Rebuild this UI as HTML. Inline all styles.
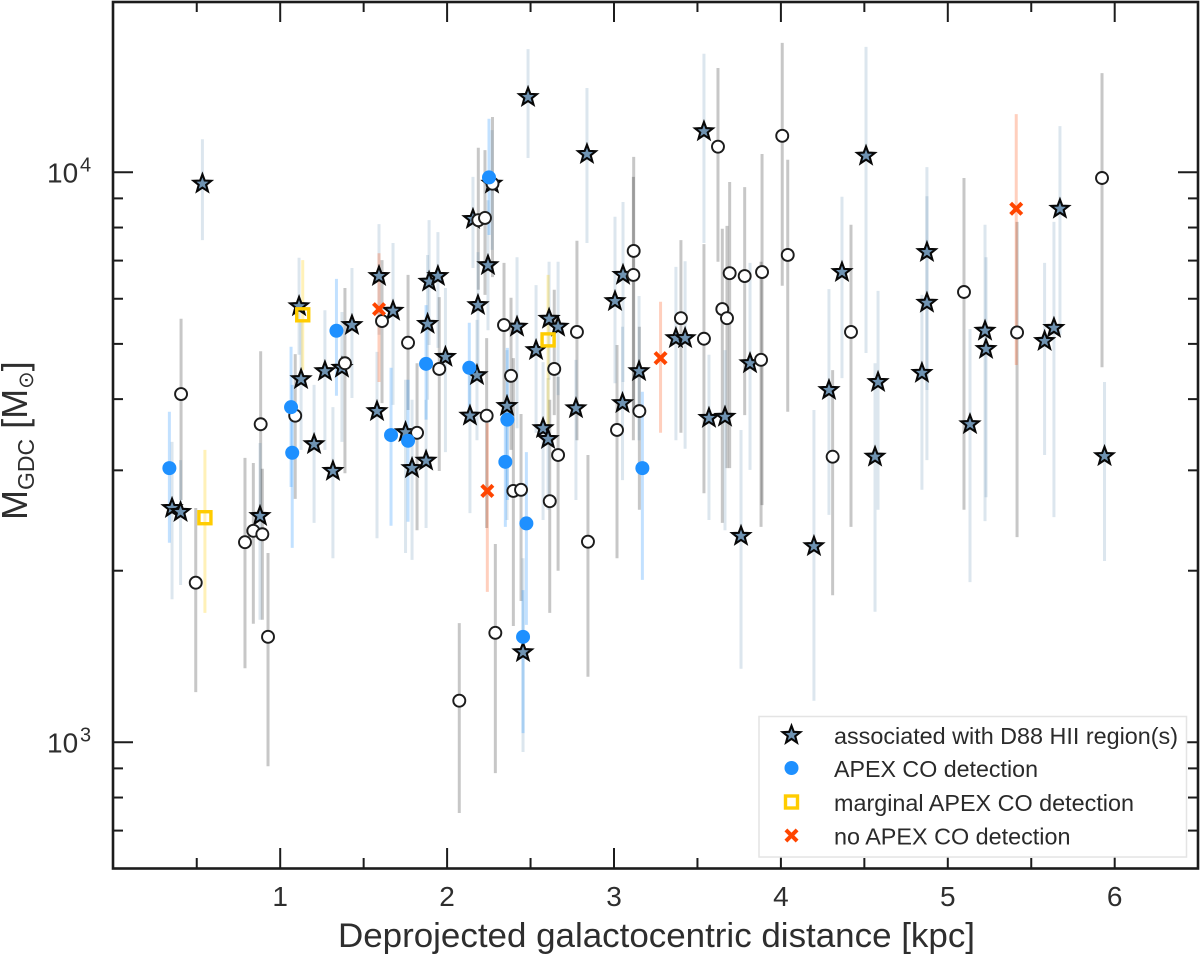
<!DOCTYPE html>
<html lang="en">
<head>
<meta charset="utf-8">
<title>GDC mass vs galactocentric distance</title>
<style>
html,body{margin:0;padding:0;background:#fff;}
svg{display:block;font-family:"Liberation Sans",sans-serif;filter:blur(0.35px);}
</style>
</head>
<body>
<svg id="chart" width="1200" height="955" viewBox="0 0 1200 955" xmlns="http://www.w3.org/2000/svg">
  <rect x="0" y="0" width="1200" height="955" fill="#fff"/>
  <g id="errs"></g>
  <g id="marks"></g>
  <rect x="113" y="2" width="1085" height="866.5" fill="none" stroke="#1c1c1c" stroke-width="2.6"/>
  <g id="ticks"></g>
  <g id="labels" fill="#2e2e2e"></g>
  <text x="338" y="947" font-size="34" fill="#2e2e2e" textLength="637" lengthAdjust="spacingAndGlyphs">Deprojected galactocentric distance [kpc]</text>
  <text transform="translate(27,520) rotate(-90)" font-size="36" fill="#2e2e2e"><tspan>M</tspan><tspan font-size="23" dy="7">GDC</tspan><tspan dy="-7"> [M</tspan><tspan font-size="21" dy="6">⊙</tspan><tspan dy="-6">]</tspan></text>
  <g id="legend">
    <rect x="759" y="716.5" width="427.5" height="140.5" fill="#fff" stroke="#e4e4e4" stroke-width="1.5"/>
    <g id="legend-marks"></g>
    <text x="834" y="744" font-size="23" fill="#2a2a2a" textLength="344" lengthAdjust="spacingAndGlyphs">associated with D88 HII region(s)</text>
    <text x="834" y="777" font-size="23" fill="#2a2a2a" textLength="204" lengthAdjust="spacingAndGlyphs">APEX CO detection</text>
    <text x="834" y="811" font-size="23" fill="#2a2a2a" textLength="300" lengthAdjust="spacingAndGlyphs">marginal APEX CO detection</text>
    <text x="834" y="844.5" font-size="23" fill="#2a2a2a" textLength="236.5" lengthAdjust="spacingAndGlyphs">no APEX CO detection</text>
  </g>
</svg>
<script>
// X: deprojected galactocentric distance (kpc). Y arrays: log10 of GDC mass (Msun), with upper / lower error limits.
const starKpc = [0.534,1.113,1.125,1.268,1.370,1.430,1.592,1.580,1.676,1.751,1.790,1.874,1.883,1.892,1.945,1.990,2.137,2.155,2.245,2.185,2.179,2.359,2.419,2.485,2.838,2.533,2.611,2.665,2.575,2.605,2.772,3.006,3.054,3.150,3.051,3.371,3.426,3.539,3.815,3.569,3.665,4.288,4.366,4.510,4.875,4.875,4.845,4.582,4.564,5.133,5.223,5.229,5.580,5.636,5.672,5.939,3.761,4.198,2.455,0.352,0.403,0.879,1.203,1.316,2.269];
const starLog = [3.980,3.765,3.637,3.651,3.657,3.732,3.818,3.581,3.757,3.544,3.481,3.494,3.734,3.808,3.818,3.676,3.573,3.918,3.837,3.767,3.644,3.590,3.729,4.132,4.032,3.688,3.743,3.729,3.551,3.532,3.586,3.774,3.820,3.651,3.595,3.709,3.709,4.072,3.665,3.569,3.571,3.618,3.825,4.029,3.860,3.771,3.648,3.632,3.501,3.558,3.722,3.690,3.704,3.727,3.936,3.502,3.362,3.344,3.158,3.411,3.404,3.397,3.523,3.476,3.980];
const starHigh = [4.058,3.850,3.741,3.758,3.755,3.832,3.909,3.685,3.876,3.636,3.601,3.601,3.855,3.916,3.895,3.797,3.662,3.992,3.951,3.860,3.741,3.688,3.851,4.216,4.148,3.802,3.843,3.843,3.667,3.639,3.671,3.922,3.948,3.783,3.729,3.834,3.844,4.208,3.841,3.680,3.688,3.795,3.957,4.220,4.009,3.958,3.785,3.792,3.665,3.725,3.908,3.851,3.841,3.913,4.081,3.632,3.548,3.583,3.323,3.527,3.495,3.525,3.627,3.588,4.074];
const starLow = [3.881,3.680,3.513,3.513,3.527,3.604,3.715,3.358,3.592,3.332,3.320,3.376,3.601,3.697,3.692,3.509,3.402,3.832,3.723,3.653,3.530,3.390,3.551,4.025,3.876,3.543,3.636,3.609,3.390,3.408,3.425,3.630,3.632,3.530,3.460,3.530,3.515,3.876,3.478,3.390,3.372,3.399,3.639,3.683,3.618,3.495,3.443,3.408,3.229,3.281,3.388,3.430,3.504,3.395,3.715,3.318,3.129,3.073,2.983,3.251,3.276,3.215,3.385,3.323,3.864];

const apexKpc = [0.336,1.065,1.072,1.337,1.664,1.766,1.874,2.133,2.251,2.361,2.349,2.475,2.455,3.170];
const apexLog = [3.481,3.588,3.508,3.722,3.539,3.529,3.664,3.657,3.991,3.566,3.492,3.384,3.185,3.481];
const apexHigh = [3.580,3.694,3.627,3.813,3.657,3.636,3.767,3.736,4.094,3.692,3.601,3.509,3.267,3.615];
const apexLow = [3.350,3.448,3.341,3.608,3.380,3.387,3.566,3.566,3.890,3.425,3.378,3.206,3.016,3.285];

const marginalKpc = [0.549,1.135,2.605];
const marginalLog = [3.394,3.750,3.706];
const marginalHigh = [3.513,3.846,3.820];
const marginalLow = [3.227,3.653,3.551];

const noneKpc = [1.592,2.241,3.279,5.410];
const noneLog = [3.760,3.441,3.674,3.936];
const noneHigh = [3.858,3.560,3.773,4.102];
const noneLow = [3.632,3.264,3.543,3.662];

const openKpc = [0.406,0.494,0.883,0.789,0.839,0.893,0.927,1.090,1.388,1.610,1.766,1.820,1.953,2.187,2.227,2.272,2.341,2.237,2.383,2.397,2.443,2.615,2.642,2.665,2.778,2.844,2.289,2.073,3.018,3.116,3.118,3.152,3.401,3.539,3.623,3.693,3.649,3.677,3.783,3.887,3.881,4.008,4.041,4.420,4.310,5.097,5.415,5.924];
const openLog = [3.611,3.280,3.558,3.351,3.371,3.365,3.185,3.573,3.665,3.739,3.701,3.543,3.655,3.916,3.920,3.980,3.732,3.573,3.643,3.441,3.443,3.423,3.655,3.504,3.720,3.352,3.192,3.073,3.548,3.820,3.862,3.581,3.744,3.708,4.045,3.823,3.760,3.744,3.818,3.825,3.671,4.064,3.855,3.720,3.501,3.790,3.719,3.990];
const openHigh = [3.743,3.411,3.686,3.499,3.490,3.480,3.332,3.681,3.797,3.846,3.820,3.665,3.781,4.043,4.039,4.097,3.841,3.709,3.780,3.674,3.576,3.601,3.794,3.641,3.880,3.504,3.348,3.209,3.697,3.992,4.027,3.729,3.881,3.874,4.183,3.983,3.901,3.906,3.974,4.032,3.843,4.227,4.022,3.908,3.653,3.990,3.913,4.174];
const openLow = [3.425,3.088,3.390,3.130,3.208,3.215,2.958,3.427,3.472,3.595,3.583,3.372,3.476,3.794,3.785,3.816,3.574,3.376,3.513,3.204,3.248,3.227,3.574,3.301,3.530,3.115,2.946,2.876,3.323,3.530,3.583,3.408,3.543,3.437,3.843,3.481,3.385,3.481,3.574,3.416,3.378,3.801,3.580,3.378,3.258,3.408,3.360,3.658];

const xTickValues = [1,2,3,4,5,6];
const xMinorValues = [0.5,1.5,2.5,3.5,4.5,5.5];
const yMajorExponents = [3,4];
const yMinorValues = [700,800,900,2000,3000,4000,5000,6000,7000,8000,9000];

const SVGNS = 'http://www.w3.org/2000/svg';
function xScale(kpc){ return 113.3 + kpc * 166.9; }
function yScale(logM){ return 172.3 + (4 - logM) * 570; }

function mk(tag, attrs, parent){
  const el = document.createElementNS(SVGNS, tag);
  for (const k in attrs) el.setAttribute(k, attrs[k]);
  parent.appendChild(el);
  return el;
}
function starPoints(cx, cy, R){
  const pts = [];
  for (let i = 0; i < 10; i++){
    const r = i % 2 ? R * 0.42 : R;
    const a = -Math.PI / 2 + i * Math.PI / 5;
    pts.push((cx + r * Math.cos(a)).toFixed(2) + ',' + (cy + r * Math.sin(a)).toFixed(2));
  }
  return pts.join(' ');
}
function drawStar(cx, cy, parent){
  const el = mk('polygon', {points: starPoints(cx, cy, 9.3), fill: '#6f93b2', stroke: '#080808', 'stroke-width': 2.1, 'stroke-linejoin': 'miter'}, parent);
  
  
}
function drawOpen(cx, cy, parent){
  const el = mk('circle', {cx: cx, cy: cy, r: 6, fill: '#fff', stroke: '#1c1c1c', 'stroke-width': 1.9}, parent);
  
  
}
function drawApex(cx, cy, parent){
  const el = mk('circle', {cx: cx, cy: cy, r: 7, fill: '#1e90ff'}, parent);
  
  
}
function drawMarginal(cx, cy, parent){
  const el = mk('rect', {x: cx - 6, y: cy - 6, width: 12, height: 12, fill: 'none', stroke: '#ffcc00', 'stroke-width': 3.4}, parent);
  
  
}
function drawNone(cx, cy, parent){
  const d = 5.6;
  const el = mk('path', {d: 'M' + (cx - d) + ' ' + (cy - d) + 'L' + (cx + d) + ' ' + (cy + d) + 'M' + (cx + d) + ' ' + (cy - d) + 'L' + (cx - d) + ' ' + (cy + d), fill: 'none', stroke: '#ff4500', 'stroke-width': 4}, parent);
  
  
}
function drawErrors(xs, highs, lows, color){
  const g = document.getElementById('errs');
  xs.forEach(function(v, i){
    const el = mk('line', {x1: xScale(v), x2: xScale(v), y1: yScale(highs[i]), y2: yScale(lows[i]), stroke: color, 'stroke-width': 3}, g);
    
    
  });
}

drawErrors(openKpc, openHigh, openLow, 'rgba(0,0,0,0.22)');
drawErrors(starKpc, starHigh, starLow, 'rgba(70,120,165,0.19)');
drawErrors(apexKpc, apexHigh, apexLow, 'rgba(30,144,255,0.27)');
drawErrors(marginalKpc, marginalHigh, marginalLow, 'rgba(255,204,0,0.28)');
drawErrors(noneKpc, noneHigh, noneLow, 'rgba(255,69,0,0.26)');

const marks = document.getElementById('marks');
starKpc.forEach(function(v, i){ drawStar(xScale(v), yScale(starLog[i]), marks); });
openKpc.forEach(function(v, i){ drawOpen(xScale(v), yScale(openLog[i]), marks); });
apexKpc.forEach(function(v, i){ drawApex(xScale(v), yScale(apexLog[i]), marks); });
marginalKpc.forEach(function(v, i){ drawMarginal(xScale(v), yScale(marginalLog[i]), marks); });
noneKpc.forEach(function(v, i){ drawNone(xScale(v), yScale(noneLog[i]), marks); });

const ticks = document.getElementById('ticks');
function tick(x1, y1, x2, y2, name){
  const el = mk('line', {x1: x1, y1: y1, x2: x2, y2: y2, stroke: '#1c1c1c', 'stroke-width': 2}, ticks);
  
  
}
xTickValues.forEach(function(v){
  tick(xScale(v), 868, xScale(v), 848, 'x-major-tick');
  tick(xScale(v), 2, xScale(v), 22, 'x-major-tick-top');
});
xMinorValues.forEach(function(v){
  tick(xScale(v), 868, xScale(v), 858, 'x-minor-tick');
  tick(xScale(v), 2, xScale(v), 12, 'x-minor-tick-top');
});
yMajorExponents.forEach(function(e){
  tick(113, yScale(e), 133, yScale(e), 'y-major-tick');
  tick(1198, yScale(e), 1178, yScale(e), 'y-major-tick-right');
});
yMinorValues.forEach(function(v){
  const l = Math.log10(v);
  tick(113, yScale(l), 123, yScale(l), 'y-minor-tick');
  tick(1198, yScale(l), 1188, yScale(l), 'y-minor-tick-right');
});

const labels = document.getElementById('labels');
xTickValues.forEach(function(v){
  const t = mk('text', {x: xScale(v), y: 906, 'font-size': 28, 'text-anchor': 'middle'}, labels);
  t.textContent = String(v);
  
  
});
yMajorExponents.forEach(function(e){
  const yy = yScale(e) + 10;
  const t = mk('text', {x: 47, y: yy, 'font-size': 28}, labels);
  t.textContent = '10';
  
  
  const s = mk('text', {x: 80, y: yy - 11, 'font-size': 20}, labels);
  s.textContent = String(e);
  
  
});

const lm = document.getElementById('legend-marks');
drawStar(791.5, 735, lm);
drawApex(791.5, 768, lm);
drawMarginal(791.5, 802, lm);
drawNone(791.5, 835.5, lm);
</script>
</body>
</html>
